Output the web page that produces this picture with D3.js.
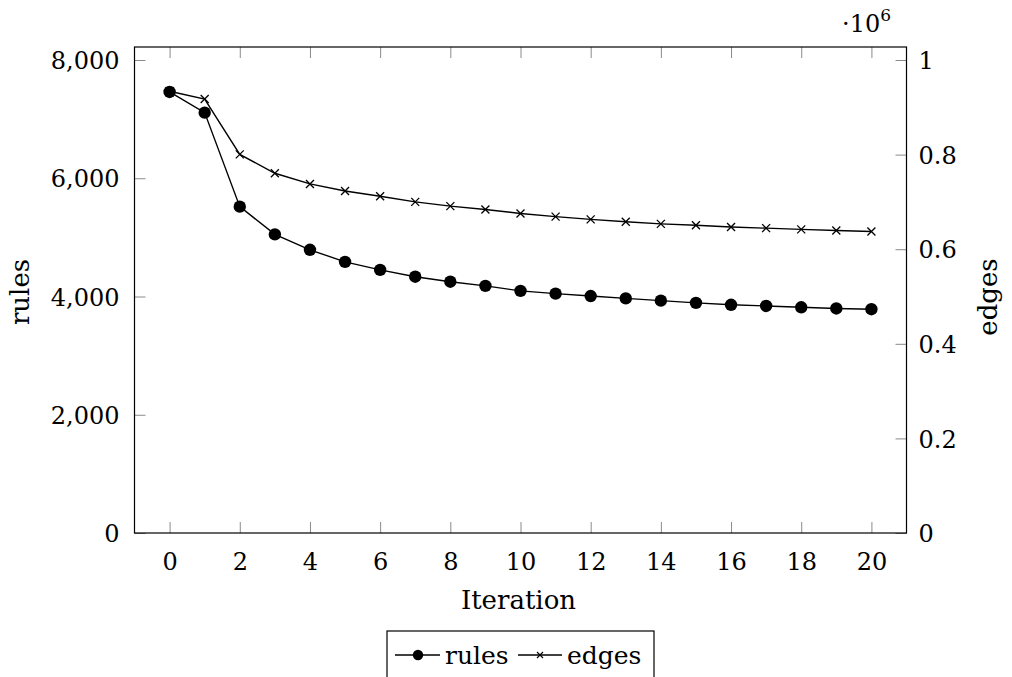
<!DOCTYPE html>
<html>
<head>
<meta charset="utf-8">
<script src="https://cdn.jsdelivr.net/npm/d3@7"></script>
<style>
    body { margin: 0; background: #fff; }
    svg { display: block; }
    svg text { fill: #000; font-family: "DejaVu Serif", serif; }
</style>
</head>
<body>
<svg id="chart" width="1012" height="677"></svg>
<script>
/***************************************************************
    Data
****************************************************************/
const iterations = [0, 1, 2, 3, 4, 5, 6, 7, 8, 9, 10, 11, 12, 13, 14, 15, 16, 17, 18, 19, 20];
const rules = [7460, 7110, 5520, 5050, 4790, 4585, 4450, 4335, 4250, 4180, 4095,
               4048, 4008, 3968, 3930, 3893, 3860, 3840, 3818, 3798, 3785];
const edges = [934000, 917500, 800500, 760500, 738000, 723000, 712000, 700000, 691000, 684000, 675500,
               668800, 663000, 658000, 653500, 650500, 647000, 644500, 642000, 639500, 637500];

const xTicks = [0, 2, 4, 6, 8, 10, 12, 14, 16, 18, 20];
const leftTicks = [0, 2000, 4000, 6000, 8000];
const rightTicks = [0, 0.2, 0.4, 0.6, 0.8, 1];   // x 10^6

/***************************************************************
    Layout
****************************************************************/
const plotLeft = 134.5, plotRight = 906.5, plotTop = 47, plotBottom = 533;
const fontSize = 24;
const labelSize = 26;
const legendSize = 25;
const tickLen = 11;

const svg = d3.select("#chart");

const x = d3.scaleLinear().domain([-1, 21]).range([plotLeft, plotRight]);
const yL = d3.scaleLinear().domain([0, 8220]).range([plotBottom, plotTop]);
const yR = d3.scaleLinear().domain([0, 1.0275]).range([plotBottom, plotTop]);

/***************************************************************
    Axes
****************************************************************/
function styleAxis(g) {
    g.attr("font-family", null);
    g.select(".domain").remove();
    g.selectAll(".tick line").attr("stroke", "#8a8a8a").attr("stroke-width", 1);
    g.selectAll(".tick text").attr("font-size", fontSize);
}

// bottom (ticks pointing inward)
const bottomAxis = svg.append("g").attr("transform", `translate(0,${plotBottom})`)
    .call(d3.axisBottom(x).tickValues(xTicks).tickSize(-tickLen).tickPadding(tickLen + 9).tickFormat(d3.format("d")))
    .call(styleAxis);
// top mirror ticks
svg.append("g").attr("transform", `translate(0,${plotTop})`)
    .call(d3.axisTop(x).tickValues(xTicks).tickSize(-tickLen).tickFormat(""))
    .call(styleAxis);
// left
const leftAxis = svg.append("g").attr("transform", `translate(${plotLeft},0)`)
    .call(d3.axisLeft(yL).tickValues(leftTicks).tickSize(-tickLen).tickPadding(tickLen + 4).tickFormat(d3.format(",")))
    .call(styleAxis);
// right
const rightAxis = svg.append("g").attr("transform", `translate(${plotRight},0)`)
    .call(d3.axisRight(yR).tickValues(rightTicks).tickSize(-tickLen).tickPadding(tickLen + 1).tickFormat(d => d3.format("~g")(d)))
    .call(styleAxis);

leftAxis.selectAll(".tick text").attr("dy", "0.36em");
rightAxis.selectAll(".tick text").attr("dy", "0.36em");
bottomAxis.selectAll(".tick text").attr("dy", "0.71em");

// frame
svg.append("rect")
    .attr("x", plotLeft).attr("y", plotTop)
    .attr("width", plotRight - plotLeft).attr("height", plotBottom - plotTop)
    .attr("fill", "none").attr("stroke", "#000").attr("stroke-width", 1.2);

/***************************************************************
    Labels
****************************************************************/
svg.append("text").attr("x", (plotLeft + plotRight) / 2 - 2).attr("y", 609)
    .attr("text-anchor", "middle").attr("font-size", labelSize).text("Iteration");

svg.append("text").attr("transform", "translate(29,292) rotate(-90)")
    .attr("text-anchor", "middle").attr("font-size", labelSize).text("rules");

svg.append("text").attr("transform", "translate(997,297) rotate(-90)")
    .attr("text-anchor", "middle").attr("font-size", labelSize).text("edges");

const mult = svg.append("text").attr("x", 842).attr("y", 32).attr("font-size", fontSize);
mult.append("tspan").text("\u00b710");
mult.append("tspan").attr("font-size", 17).attr("dy", -11).text("6");

/***************************************************************
    Series
****************************************************************/
const rulesLine = d3.line().x((d, i) => x(iterations[i])).y(d => yL(d));
const edgesLine = d3.line().x((d, i) => x(iterations[i])).y(d => yR(d / 1e6));

svg.append("path").datum(edges).attr("d", edgesLine)
    .attr("fill", "none").attr("stroke", "#000").attr("stroke-width", 1.4);
svg.append("path").datum(rules).attr("d", rulesLine)
    .attr("fill", "none").attr("stroke", "#000").attr("stroke-width", 1.4);

function crossPath(s) {
    return `M${-s},${-s}L${s},${s}M${-s},${s}L${s},${-s}`;
}

svg.append("g").selectAll("path").data(edges).enter().append("path")
    .attr("transform", (d, i) => `translate(${x(iterations[i])},${yR(d / 1e6)})`)
    .attr("d", crossPath(4))
    .attr("stroke", "#000").attr("stroke-width", 1.3).attr("fill", "none");

svg.append("g").selectAll("circle").data(rules).enter().append("circle")
    .attr("cx", (d, i) => x(iterations[i]))
    .attr("cy", d => yL(d))
    .attr("r", 6.2)
    .attr("fill", "#000");

/***************************************************************
    Legend
****************************************************************/
const legend = svg.append("g");
legend.append("rect").attr("x", 387).attr("y", 631).attr("width", 267).attr("height", 60)
    .attr("fill", "#fff").attr("stroke", "#000").attr("stroke-width", 1.2);

const ly = 655;
legend.append("line").attr("x1", 395).attr("x2", 440).attr("y1", ly).attr("y2", ly)
    .attr("stroke", "#000").attr("stroke-width", 1.3);
legend.append("circle").attr("cx", 418).attr("cy", ly).attr("r", 5.2).attr("fill", "#000");
legend.append("text").attr("x", 445).attr("y", ly).attr("dy", "0.34em").attr("font-size", legendSize).text("rules");

legend.append("line").attr("x1", 518).attr("x2", 562).attr("y1", ly).attr("y2", ly)
    .attr("stroke", "#000").attr("stroke-width", 1.3);
legend.append("path").attr("transform", `translate(540,${ly})`).attr("d", crossPath(3))
    .attr("stroke", "#000").attr("stroke-width", 1.1);
legend.append("text").attr("x", 567).attr("y", ly).attr("dy", "0.34em").attr("font-size", legendSize).text("edges");
</script>
</body>
</html>
